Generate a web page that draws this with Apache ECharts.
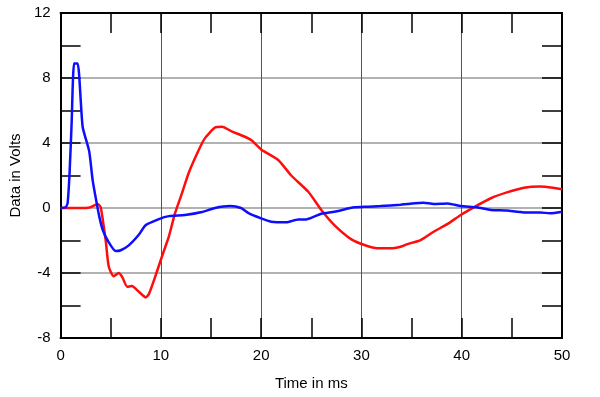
<!DOCTYPE html>
<html>
<head>
<meta charset="utf-8">
<script src="https://cdn.jsdelivr.net/npm/echarts@6/dist/echarts.min.js"></script>
<style>
  html, body { margin: 0; padding: 0; background: #fff; }
  #chart { width: 600px; height: 397px; }
</style>
</head>
<body>
<div id="chart"></div>
<script>
// step response, two traces
const blueTime = [0, 0.5, 0.7, 0.9, 1.1, 1.35, 1.7, 2.2, 2.85, 3.2, 3.6, 3.85, 4.2, 4.7, 5.5, 6.0, 6.8, 7.8, 8.5, 9.8, 10.8, 12.4, 14.1, 15.4, 16.9, 18.0, 18.7, 20.0, 21.0, 22.5, 23.7, 24.5, 26.0, 27.3, 29.3, 30.6, 31.9, 33.9, 34.6, 36.2, 37.2, 38.6, 39.9, 41.5, 42.9, 44.5, 46.2, 47.8, 48.8, 50];
const blueVolts = [0, 0.05, 0.3, 2.2, 5.2, 8.9, 8.9, 5.0, 3.5, 1.7, 0.3, -0.5, -1.35, -2.0, -2.65, -2.6, -2.3, -1.65, -1.05, -0.68, -0.5, -0.43, -0.25, 0.0, 0.12, 0.0, -0.3, -0.64, -0.84, -0.88, -0.7, -0.7, -0.35, -0.23, 0.04, 0.08, 0.12, 0.2, 0.25, 0.33, 0.25, 0.28, 0.12, 0.04, -0.12, -0.16, -0.27, -0.27, -0.33, -0.23];

const redTime = [0, 2.5, 3.0, 3.7, 4.0, 4.5, 4.8, 5.3, 5.8, 6.15, 6.65, 7.1, 7.8, 8.5, 8.8, 9.45, 10.1, 10.8, 11.4, 12.1, 12.8, 13.8, 14.4, 15.4, 16.1, 17.1, 18.2, 19.0, 20.0, 21.7, 23.0, 24.7, 26.0, 27.3, 29.0, 30.3, 31.6, 32.9, 33.9, 34.6, 35.9, 37.2, 38.6, 39.9, 41.2, 42.9, 44.5, 46.2, 47.8, 49.1, 50];
const redVolts = [0, 0, 0.05, 0.25, 0.05, -2.0, -3.6, -4.2, -4.0, -4.25, -4.85, -4.8, -5.15, -5.5, -5.3, -4.2, -3.0, -1.75, -0.35, 0.9, 2.2, 3.6, 4.3, 4.95, 5.0, 4.7, 4.43, 4.18, 3.6, 2.95, 2.0, 1.0, -0.12, -1.05, -1.93, -2.28, -2.48, -2.48, -2.38, -2.22, -1.97, -1.46, -0.98, -0.43, 0.04, 0.6, 0.96, 1.25, 1.33, 1.25, 1.15];

const xMin = 0, xMax = 50, xStep = 10;
const yMin = -8, yMax = 12, yStep = 4;

const pairs = (t, v) => t.map((x, i) => [x, v[i]]);

const font = '"Liberation Sans", Arial, sans-serif';

const chart = echarts.init(document.getElementById('chart'));

const tickStyle = { color: '#000', width: 1.5 };
const xAxisBase = {
  type: 'value', min: xMin, max: xMax, interval: xStep,
  axisLine: { show: true, onZero: false, lineStyle: { color: '#000', width: 2 } },
  axisTick: { show: true, inside: true, length: 20, lineStyle: tickStyle },
  minorTick: { show: true, splitNumber: 2, length: 20, lineStyle: tickStyle },
};
const yAxisBase = {
  type: 'value', min: yMin, max: yMax, interval: yStep,
  axisLine: { show: true, onZero: false, lineStyle: { color: '#000', width: 2 } },
  axisTick: { show: true, inside: true, length: 20, lineStyle: tickStyle },
  minorTick: { show: true, splitNumber: 2, length: 20, lineStyle: tickStyle },
};

chart.setOption({
  animation: false,
  backgroundColor: '#fff',
  grid: { left: 58, right: 38, top: 13, bottom: 59 },
  xAxis: [
    Object.assign({}, xAxisBase, {
      position: 'bottom',
      name: 'Time in ms', nameLocation: 'middle', nameGap: 38,
      nameTextStyle: { fontFamily: font, fontSize: 15, color: '#000' },
      axisLabel: { fontFamily: font, fontSize: 15, color: '#000', margin: 10 },
      splitLine: { show: true, lineStyle: { color: '#555', width: 1 } },
    }),
    Object.assign({}, xAxisBase, {
      position: 'top',
      axisLabel: { show: false },
      splitLine: { show: false },
    }),
  ],
  yAxis: [
    Object.assign({}, yAxisBase, {
      position: 'left',
      name: 'Data in Volts', nameLocation: 'middle', nameGap: 36, nameRotate: 90,
      nameTextStyle: { fontFamily: font, fontSize: 15, color: '#000' },
      axisLabel: { fontFamily: font, fontSize: 15, color: '#000', margin: 10 },
      splitLine: { show: true, lineStyle: { color: '#999', width: 1.5 } },
    }),
    Object.assign({}, yAxisBase, {
      position: 'right',
      axisLabel: { show: false },
      splitLine: { show: false },
    }),
  ],
  series: [
    {
      name: 'red', type: 'line', xAxisIndex: 0, yAxisIndex: 0,
      data: pairs(redTime, redVolts),
      showSymbol: false, smooth: 0.2,
      lineStyle: { color: '#ff0d0d', width: 2.5 },
    },
    {
      name: 'blue', type: 'line', xAxisIndex: 0, yAxisIndex: 0,
      data: pairs(blueTime, blueVolts),
      showSymbol: false, smooth: 0.2,
      lineStyle: { color: '#0d0dff', width: 2.5 },
    },
  ],
});
</script>
</body>
</html>
